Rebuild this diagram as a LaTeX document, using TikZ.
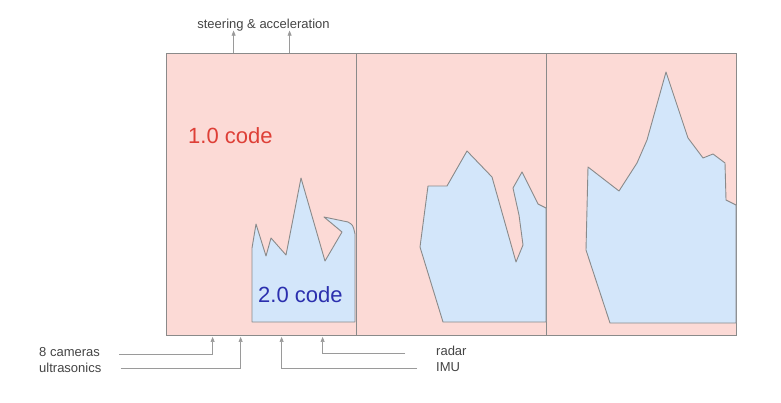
\documentclass[tikz,border=0pt]{standalone}
\usepackage{fontspec}
\setsansfont{Liberation Sans}
\usetikzlibrary{arrows.meta,positioning,calc}
\definecolor{pinkfill}{HTML}{FCDAD6}
\definecolor{bluefill}{HTML}{D3E6FA}
\definecolor{edge}{HTML}{8A8A8A}
\definecolor{wire}{HTML}{9A9A9A}
\definecolor{labelgray}{HTML}{444444}
\definecolor{oldred}{HTML}{DE3F37}
\definecolor{newblue}{HTML}{2B2FAE}

\begin{document}
\begin{tikzpicture}[x=1pt, y=-1pt, font=\sffamily,
  panel/.style={draw=edge, fill=pinkfill, line width=0.8pt, minimum width=190pt, minimum height=282pt, inner sep=0pt},
  blob/.style={draw=edge, fill=bluefill, line width=0.9pt, line join=round},
  sig/.style={draw=wire, line width=0.6pt, -{Triangle[width=4pt,length=5pt]}},
  lbl/.style={text=labelgray, inner sep=0pt, font=\sffamily\fontsize{13}{15}\selectfont},
  big/.style={inner sep=0pt, anchor=base west, font=\sffamily\fontsize{22}{26}\selectfont}]
\useasboundingbox (0,0) rectangle (781,402);
\foreach \i/\cx in {1/261,2/451,3/641} \node[panel] (p\i) at (\cx,194) {};
% code regions
\draw[blob] (252,322) -- (252,248) -- (256,224) -- (266,256) -- (271,238) -- (286,255) -- (301,178) -- (325,261) -- (342,232) -- (324,217) -- (348,222) .. controls (353,225) .. (355,234) -- (355,322) -- cycle;
\draw[blob] (443,322) -- (420,247) -- (428,186) -- (447,186) -- (467,151) -- (492,177) -- (516,262) -- (523,245) -- (519,215) -- (513,188) -- (522,172) -- (538,204) -- (546,208) -- (546,322) -- cycle;
\draw[blob] (610,323) -- (586,250) -- (588,167) -- (619,191) -- (637,163) -- (647,140) -- (666,72) -- (688,138) -- (703,158) -- (713,154) -- (725,163) -- (726,200) -- (736,205) -- (736,323) -- cycle;
\node[big, text=oldred] (old) at (188,143) {1.0 code};
\node[big, text=newblue] (new) at (258,302) {2.0 code};
% outputs
\node[lbl, anchor=base] (steer) at (263.5,28) {steering \& acceleration};
\foreach \dx in {68,124} \draw[sig] ($(p1.north west)+(\dx,0)$) -- ($(p1.north west)+(\dx,-22)$);
% inputs
\node[lbl, anchor=base west] (cam) at (39,356) {8 cameras};
\node[lbl, anchor=base west] (ultra) at (39,372) {ultrasonics};
\node[lbl, anchor=base west] (radar) at (436,355) {radar};
\node[lbl, anchor=base west] (imu) at (436,371) {IMU};
\draw[sig, shorten >=1.5pt] ($(cam.base east)+(19,-2)$) -| ($(p1.south west)+(47,0)$);
\draw[sig, shorten >=1.5pt] ($(ultra.base east)+(19,-4)$) -| ($(p1.south west)+(75,0)$);
\draw[sig, shorten >=1.5pt] ($(radar.base west)+(-31,-2)$) -| ($(p1.south west)+(157,0)$);
\draw[sig, shorten >=1.5pt] ($(imu.base west)+(-19,-3)$) -| ($(p1.south west)+(116,0)$);
\end{tikzpicture}
\end{document}
